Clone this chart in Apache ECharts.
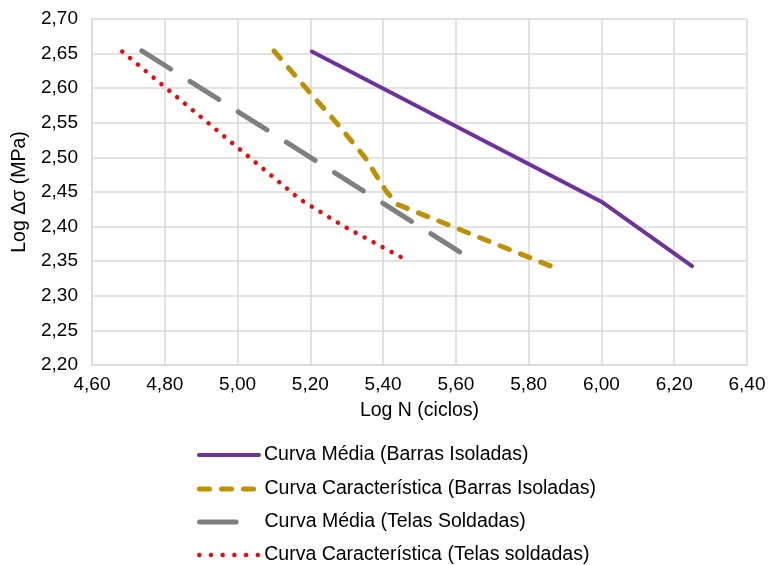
<!DOCTYPE html>
<html>
<head>
<meta charset="utf-8">
<script src="https://cdn.jsdelivr.net/npm/echarts@6/dist/echarts.min.js"></script>
<style>
html,body{margin:0;padding:0;background:#fff;}
#chart{width:769px;height:565px;}
</style>
</head>
<body>
<div id="chart"></div>
<script>
var seriesNames = [
  'Curva Média (Barras Isoladas)',
  'Curva Característica (Barras Isoladas)',
  'Curva Média (Telas Soldadas)',
  'Curva Característica (Telas soldadas)'
];
var xTicks = [4.6, 4.8, 5.0, 5.2, 5.4, 5.6, 5.8, 6.0, 6.2, 6.4];
var yTicks = [2.2, 2.25, 2.3, 2.35, 2.4, 2.45, 2.5, 2.55, 2.6, 2.65, 2.7];

var mediaBarrasX = [5.204, 6.00, 6.249];
var mediaBarrasY = [2.653, 2.436, 2.343];

var caracBarrasX = [5.100, 5.188, 5.272, 5.350, 5.410, 5.440, 5.860];
var caracBarrasY = [2.654, 2.600, 2.550, 2.500, 2.450, 2.432, 2.343];

var mediaTelasX = [4.737, 5.627];
var mediaTelasY = [2.654, 2.358];

var caracTelasX = [4.683, 5.170, 5.290, 5.470];
var caracTelasY = [2.653, 2.440, 2.401, 2.350];

function pairs(xs, ys){ return xs.map(function(x,i){ return [x, ys[i]]; }); }
function fmt(v){ return v.toFixed(2).replace('.', ','); }

var FONT = 'Liberation Sans, Arial, sans-serif';
var colors = ['#7030A0', '#BF9000', '#7F7F7F', '#FF0000'];
var hideSym = {opacity: 0, color: 'transparent', borderWidth: 0};
var legendLines = [
  {width: 4, type: 'solid', cap: 'round'},
  {width: 5, type: [10, 12], cap: 'round'},
  {width: 5, type: [36.6, 100], cap: 'round'},
  {width: 4.5, type: [0.01, 11.7], cap: 'round'}
];
var legendTops = [445, 479, 512, 545];

var legends = seriesNames.map(function(n, i){
  return {
    orient: 'horizontal', left: 197, top: legendTops[i], padding: 0,
    itemWidth: 60, itemHeight: 14,
    itemStyle: hideSym,
    textStyle: {fontSize: 19.5, color: '#000', fontFamily: FONT},
    data: [{name: n, itemStyle: hideSym, lineStyle: legendLines[i]}]
  };
});

var chart = echarts.init(document.getElementById('chart'), null, {renderer:'canvas'});
chart.setOption({
  animation: false,
  textStyle: {fontFamily: FONT, color: '#000'},
  grid: {left: 92, right: 22, top: 19, bottom: 200, containLabel: false},
  xAxis: {
    type: 'value', min: xTicks[0], max: xTicks[xTicks.length-1], interval: 0.2,
    name: 'Log N (ciclos)', nameLocation: 'middle', nameGap: 36,
    nameTextStyle: {fontSize: 19.5, color: '#000', fontFamily: FONT},
    axisLine: {show: true, lineStyle: {color: '#D9D9D9', width: 1.5}},
    axisTick: {show: false},
    splitLine: {show: true, lineStyle: {color: '#D9D9D9', width: 1.5}},
    axisLabel: {fontSize: 19, color: '#000', margin: 10, fontFamily: FONT, formatter: fmt}
  },
  yAxis: {
    type: 'value', min: yTicks[0], max: yTicks[yTicks.length-1], interval: 0.05,
    name: 'Log \u0394\u03c3 (MPa)', nameLocation: 'middle', nameGap: 60, nameRotate: 90,
    nameTextStyle: {fontSize: 19.5, color: '#000', fontFamily: FONT},
    axisLine: {show: true, lineStyle: {color: '#D9D9D9', width: 1.5}},
    axisTick: {show: false},
    splitLine: {show: true, lineStyle: {color: '#D9D9D9', width: 1.5}},
    axisLabel: {fontSize: 19, color: '#000', margin: 14, fontFamily: FONT, formatter: fmt}
  },
  legend: legends,
  series: [
    {name: seriesNames[0], type: 'line', data: pairs(mediaBarrasX, mediaBarrasY),
     symbol: 'none', color: colors[0],
     lineStyle: {color: colors[0], width: 4, cap: 'round', join: 'round'}},
    {name: seriesNames[1], type: 'line', data: pairs(caracBarrasX, caracBarrasY),
     symbol: 'none', color: colors[1],
     lineStyle: {color: colors[1], width: 5, type: [10, 12], cap: 'round', join: 'round'}},
    {name: seriesNames[2], type: 'line', data: pairs(mediaTelasX, mediaTelasY),
     symbol: 'none', color: colors[2],
     lineStyle: {color: colors[2], width: 5, type: [34, 23], cap: 'round', join: 'round'}},
    {name: seriesNames[3], type: 'line', data: pairs(caracTelasX, caracTelasY),
     symbol: 'none', color: colors[3],
     lineStyle: {color: colors[3], width: 4.5, type: [0.01, 10.2], cap: 'round', join: 'round'}}
  ]
});
</script>
</body>
</html>
